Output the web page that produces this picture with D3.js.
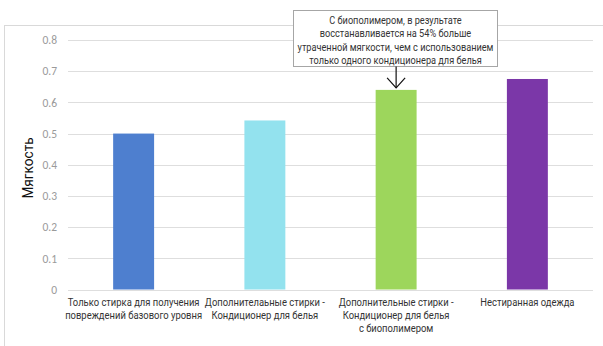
<!DOCTYPE html>
<html>
<head>
<meta charset="utf-8">
<script src="https://cdn.jsdelivr.net/npm/d3@7"></script>
<style>
  html, body { margin: 0; padding: 0; background: #fff; }
  svg { display: block; }
  .narrow { font-family: Roboto, "Liberation Sans", sans-serif; }
</style>
</head>
<body>
<svg id="chart" width="603" height="346"></svg>
<script>
// Categories (each label split into its lines)
const categories = [
  ["Только стирка для получения", "повреждений базового уровня"],
  ["Дополнителаьные стирки -", "Кондиционер для белья"],
  ["Дополнительные стирки -", "Кондиционер для белья", "с биополимером"],
  ["Нестиранная одежда"]
];
const softness = [0.5, 0.542, 0.64, 0.675];
const barColors = ["#4e7fcf", "#93e2ee", "#9dd65c", "#7b37a8"];
const yTicks = [0, 0.1, 0.2, 0.3, 0.4, 0.5, 0.6, 0.7, 0.8];
const yTitle = "Мягкость";
const note = [
  "С биополимером, в результате",
  "восстанавливается на 54% больше",
  "утраченной мягкости, чем с использованием",
  "только одного кондиционера для белья"
];
const noteIndex = 2;
const squeeze = 0.82; // horizontal compression giving a condensed label face

const svg = d3.select("#chart");

// Outer chart frame
svg.append("rect")
  .attr("x", 4.5).attr("y", 25.5)
  .attr("width", 620).attr("height", 340)
  .attr("fill", "none").attr("stroke", "#d9d9d9");

const x = d3.scaleBand()
  .domain(d3.range(categories.length))
  .range([68, 593])
  .paddingInner(0.688)
  .paddingOuter(0.344);

const y = d3.scaleLinear().domain([0, 0.8]).range([289.5, 40]);

// Gridlines
svg.append("g")
  .selectAll("line")
  .data(yTicks)
  .join("line")
  .attr("x1", 68).attr("x2", 593)
  .attr("y1", d => Math.round(y(d)) + 0.5)
  .attr("y2", d => Math.round(y(d)) + 0.5)
  .attr("stroke", "#dedede");

// Y axis tick labels
const yAxis = d3.axisLeft(y).tickValues(yTicks).tickSize(0).tickPadding(0)
  .tickFormat(d => d === 0 ? "0" : d3.format(".1f")(d));
svg.append("g")
  .attr("transform", "translate(57,0)")
  .call(yAxis)
  .call(g => g.select(".domain").remove())
  .call(g => g.selectAll("text")
    .attr("fill", "#9a9a9a")
    .attr("font-family", "Calibri, Carlito, 'Liberation Sans', sans-serif")
    .attr("font-size", 11.5));

// Bars
svg.append("g")
  .selectAll("rect")
  .data(softness)
  .join("rect")
  .attr("x", (d, i) => x(i))
  .attr("width", x.bandwidth())
  .attr("y", d => y(d))
  .attr("height", d => y(0) - y(d))
  .attr("fill", (d, i) => barColors[i]);

// Multi-line centred text, compressed horizontally around its centre
function block(parent, cx, y0, lh, lines, size, color) {
  const g = parent.append("g")
    .attr("transform", `translate(${cx},0) scale(${squeeze},1)`);
  const t = g.append("text")
    .attr("class", "narrow")
    .attr("text-anchor", "middle")
    .attr("font-size", size)
    .attr("fill", color);
  lines.forEach((ln, j) => {
    t.append("tspan").attr("x", 0).attr("y", y0 + j * lh).text(ln);
  });
  return g;
}

// Category labels
const labels = svg.append("g");
categories.forEach((lines, i) => {
  block(labels, x(i) + x.bandwidth() / 2, 306, 12.8, lines, 11.5, "#333");
});

// Y axis title
svg.append("g")
  .attr("transform", `translate(33,168) rotate(-90) scale(0.88,1)`)
  .append("text")
  .attr("class", "narrow")
  .attr("text-anchor", "middle")
  .attr("font-size", 15.5)
  .attr("fill", "#111")
  .text(yTitle);

// Annotation box with arrow pointing at the biopolymer bar
const cx = x(noteIndex) + x.bandwidth() / 2;
const box = { x: 293.5, y: 10.5, w: 204, h: 56 };
svg.append("rect")
  .attr("x", box.x).attr("y", box.y)
  .attr("width", box.w).attr("height", box.h)
  .attr("fill", "#fff").attr("stroke", "#a6a6a6");

block(svg, box.x + box.w / 2, 24, 13.3, note, 11.2, "#333");

const tipY = y(softness[noteIndex]) - 2;
const arrow = svg.append("g").attr("stroke", "#111").attr("stroke-width", 1.2).attr("fill", "none");
arrow.append("line")
  .attr("x1", cx).attr("x2", cx)
  .attr("y1", box.y + box.h).attr("y2", tipY);
arrow.append("path")
  .attr("d", `M${cx - 9},${tipY - 10}L${cx},${tipY}L${cx + 9},${tipY - 10}`);
</script>
</body>
</html>
